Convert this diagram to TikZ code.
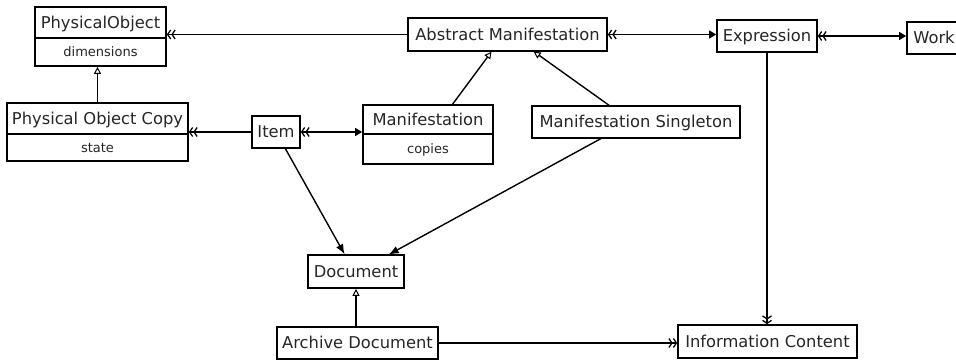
\documentclass[tikz,border=0pt]{standalone}
\usepackage{fontspec}
\setmainfont{DejaVu Sans}
\usetikzlibrary{arrows.meta}
\begin{document}
\begin{tikzpicture}[x=1pt,y=-1pt,
  box/.style={draw, line width=1.7pt, inner sep=0pt, outer sep=0pt, text height=11.9pt, text depth=0pt,
              text=black!85, font=\fontsize{16.3}{18}\selectfont},
  attr/.style={draw, line width=1.7pt, inner sep=0pt, outer sep=0pt, text height=9.5pt, text depth=0pt,
              text=black!85, font=\fontsize{13}{15}\selectfont},
  conn/.style={line width=1.4pt, shorten <=0.85pt, shorten >=0.85pt},
  dchev/.tip={Straight Barb[length=3pt,width=9pt,line width=1.3pt] Straight Barb[length=3pt,width=9pt,line width=1.3pt]},
  fhead/.tip={Triangle[length=7pt,width=8pt]},
  bighead/.tip={Latex[length=10pt,width=8pt]},
  gen/.tip={Triangle[open,length=7pt,width=7pt,fill=white,line width=1pt]}
]
\clip (0,0) rectangle (956,363);
\fill[white] (0,0) rectangle (956,363);

% classes with an attribute compartment
\node[box, minimum width=131pt, minimum height=31pt] (po)  at (100.5,22.5) {PhysicalObject};
\node[attr, minimum width=131pt, minimum height=28pt, anchor=north] (poa) at (po.south) {dimensions};

\node[box, minimum width=181pt, minimum height=31pt] (poc)  at (97.5,118.5) {Physical Object Copy};
\node[attr, minimum width=181pt, minimum height=27pt, anchor=north] (poca) at (poc.south) {state};

\node[box, minimum width=130pt, minimum height=29pt] (man)  at (428,119.5) {Manifestation};
\node[attr, minimum width=130pt, minimum height=30pt, anchor=north] (mana) at (man.south) {copies};

% plain classes
\node[box, minimum width=48pt,  minimum height=32pt] (item) at (276,132)   {Item};
\node[box, minimum width=199pt, minimum height=33pt] (am)   at (507.5,34.5) {Abstract Manifestation};
\node[box, minimum width=100pt, minimum height=32pt] (ex)   at (767,36)    {Expression};
\node[box, minimum width=54pt,  minimum height=32pt] (work) at (934,38)    {Work};
\node[box, minimum width=208pt, minimum height=32pt] (ms)   at (636,122)   {Manifestation Singleton};
\node[box, minimum width=96pt,  minimum height=33pt] (doc)  at (356,271.5) {Document};
\node[box, minimum width=161pt, minimum height=32pt] (ad)   at (357.5,343) {Archive Document};
\node[box, minimum width=179pt, minimum height=33pt] (ic)   at (767.5,341.5) {Information Content};

% associations
\draw[conn, dchev-] (am.west -| po.east) -- (am.west);
\draw[conn, dchev-fhead] (am.east) -- (am.east -| ex.west);
\draw[conn, dchev-fhead] (ex.east) -- (ex.east -| work.west);
\draw[conn, dchev-] (item.west -| poc.east) -- (item.west);
\draw[conn, dchev-fhead] (item.east) -- (item.east -| man.west);
\draw[conn, -dchev] (ex.south) -- (ex.south |- ic.north);
\draw[conn, -dchev] (ad.east) -- (ad.east -| ic.west);
\draw[conn, -bighead] ([xshift=9pt]item.south) -- ([xshift=-11pt]doc.north);
\draw[conn, -bighead] ([xshift=-34pt]ms.south) -- ([xshift=32pt]doc.north);

% generalisations
\draw[conn, -gen] (poc.north) -- (poc.north |- poa.south);
\draw[conn, -gen] ([xshift=24pt]man.north) -- ([xshift=-15.5pt]am.south);
\draw[conn, -gen] ([xshift=-26pt]ms.north) -- ([xshift=25.5pt]am.south);
\draw[conn, -gen] (ad.north -| doc.south) -- (doc.south);
\end{tikzpicture}
\end{document}
